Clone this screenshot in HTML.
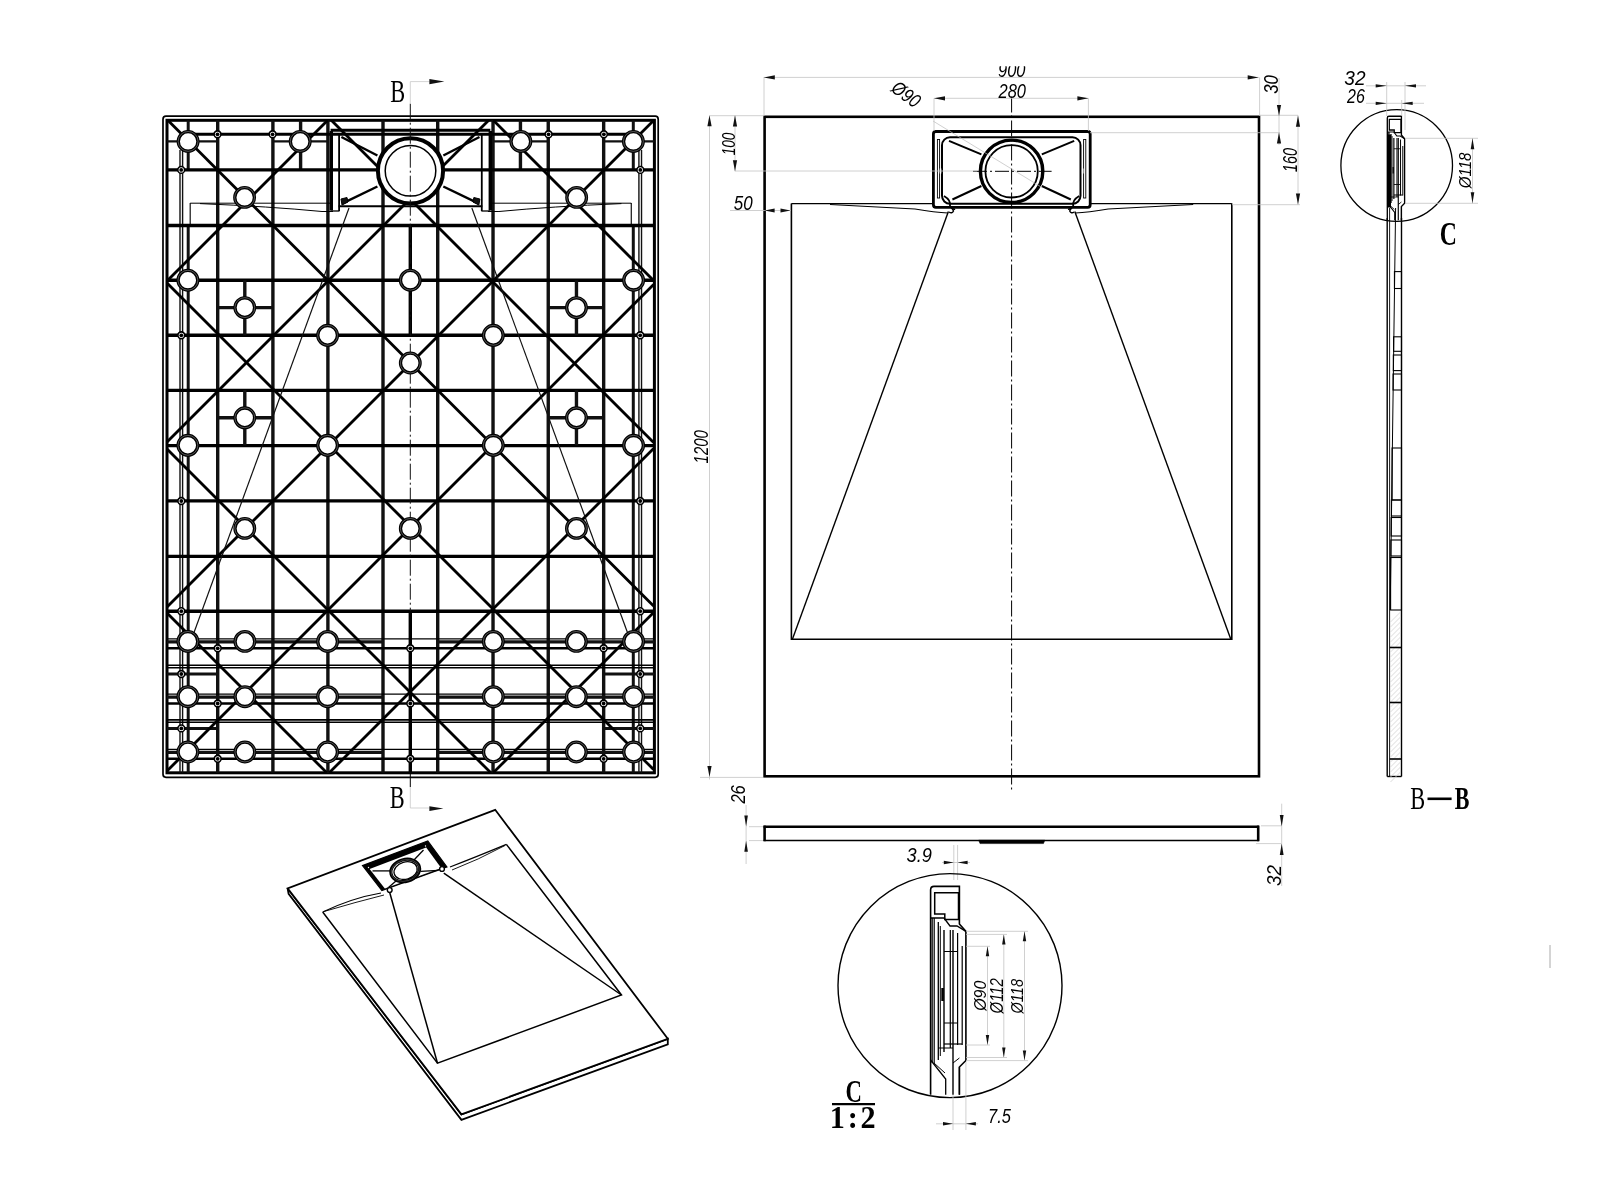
<!DOCTYPE html>
<html><head><meta charset="utf-8"><title>drawing</title>
<style>html,body{margin:0;padding:0;background:#fff;}svg{display:block;filter:grayscale(1);}</style>
</head><body>
<svg width="1600" height="1200" viewBox="0 0 1600 1200">
<rect width="1600" height="1200" fill="#fff"/>
<g id="left">
<rect x="163" y="116.2" width="495.2" height="661.1" rx="3" fill="none" stroke="#000" stroke-width="1.7"/>
<rect x="167" y="120.3" width="487.4" height="652.5" fill="none" stroke="#000" stroke-width="3"/>
<line x1="217.7" y1="120.3" x2="217.7" y2="772.8" stroke="#111" stroke-width="3.4"/>
<line x1="603.67" y1="120.3" x2="603.67" y2="772.8" stroke="#111" stroke-width="3.4"/>
<line x1="272.9" y1="120.3" x2="272.9" y2="772.8" stroke="#111" stroke-width="3.4"/>
<line x1="548.25" y1="120.3" x2="548.25" y2="772.8" stroke="#111" stroke-width="3.4"/>
<line x1="327.9" y1="120.3" x2="327.9" y2="772.8" stroke="#111" stroke-width="3.4"/>
<line x1="493.03" y1="120.3" x2="493.03" y2="772.8" stroke="#111" stroke-width="3.4"/>
<line x1="383" y1="120.3" x2="383" y2="772.8" stroke="#111" stroke-width="3.4"/>
<line x1="437.71" y1="120.3" x2="437.71" y2="772.8" stroke="#111" stroke-width="3.4"/>
<line x1="300.6" y1="120.3" x2="300.6" y2="170" stroke="#111" stroke-width="3.4"/>
<line x1="520.44" y1="120.3" x2="520.44" y2="170" stroke="#111" stroke-width="3.4"/>
<line x1="188.2" y1="120.3" x2="188.2" y2="170" stroke="#111" stroke-width="3"/>
<line x1="633.29" y1="120.3" x2="633.29" y2="170" stroke="#111" stroke-width="3"/>
<line x1="188.2" y1="226" x2="188.2" y2="772.8" stroke="#111" stroke-width="3"/>
<line x1="633.29" y1="226" x2="633.29" y2="772.8" stroke="#111" stroke-width="3"/>
<line x1="190.2" y1="203" x2="190.2" y2="226" stroke="#111" stroke-width="1.2"/>
<line x1="631.28" y1="203" x2="631.28" y2="226" stroke="#111" stroke-width="1.2"/>
<line x1="180" y1="150" x2="180" y2="772.8" stroke="#111" stroke-width="1.4"/>
<line x1="641.52" y1="150" x2="641.52" y2="772.8" stroke="#111" stroke-width="1.4"/>
<line x1="182.6" y1="150" x2="182.6" y2="772.8" stroke="#111" stroke-width="1.4"/>
<line x1="638.91" y1="150" x2="638.91" y2="772.8" stroke="#111" stroke-width="1.4"/>
<line x1="410.3" y1="611" x2="410.3" y2="772.8" stroke="#000" stroke-width="3.4"/>
<line x1="410.3" y1="225.5" x2="410.3" y2="335.2" stroke="#000" stroke-width="3.4"/>
<line x1="167" y1="169.9" x2="653.6" y2="169.9" stroke="#000" stroke-width="3.4"/>
<line x1="167" y1="225.5" x2="653.6" y2="225.5" stroke="#000" stroke-width="3.4"/>
<line x1="167" y1="280.2" x2="653.6" y2="280.2" stroke="#000" stroke-width="3.4"/>
<line x1="167" y1="335.2" x2="653.6" y2="335.2" stroke="#000" stroke-width="3.4"/>
<line x1="167" y1="390.4" x2="653.6" y2="390.4" stroke="#000" stroke-width="3.4"/>
<line x1="167" y1="445.6" x2="653.6" y2="445.6" stroke="#000" stroke-width="3.4"/>
<line x1="167" y1="500.9" x2="653.6" y2="500.9" stroke="#000" stroke-width="3.4"/>
<line x1="167" y1="556.4" x2="653.6" y2="556.4" stroke="#000" stroke-width="3.4"/>
<line x1="167" y1="611.2" x2="653.6" y2="611.2" stroke="#000" stroke-width="3.4"/>
<line x1="188" y1="134.3" x2="633.49" y2="134.3" stroke="#000" stroke-width="3"/>
<line x1="167" y1="141.3" x2="217.4" y2="141.3" stroke="#111" stroke-width="2.2"/>
<line x1="654.57" y1="141.3" x2="603.97" y2="141.3" stroke="#111" stroke-width="2.2"/>
<line x1="272.5" y1="141.3" x2="327.9" y2="141.3" stroke="#111" stroke-width="2.2"/>
<line x1="548.65" y1="141.3" x2="493.03" y2="141.3" stroke="#111" stroke-width="2.2"/>
<line x1="167" y1="638.9" x2="653.6" y2="638.9" stroke="#000" stroke-width="1.3"/>
<line x1="167" y1="641.9" x2="383" y2="641.9" stroke="#111" stroke-width="3.2"/>
<line x1="654.57" y1="641.9" x2="437.71" y2="641.9" stroke="#111" stroke-width="3.2"/>
<line x1="167" y1="648.3" x2="653.6" y2="648.3" stroke="#000" stroke-width="2.4"/>
<line x1="167" y1="665.3" x2="653.6" y2="665.3" stroke="#000" stroke-width="1.6"/>
<line x1="167" y1="667.7" x2="653.6" y2="667.7" stroke="#000" stroke-width="1.6"/>
<line x1="167" y1="694.2" x2="653.6" y2="694.2" stroke="#000" stroke-width="1.3"/>
<line x1="167" y1="697.1" x2="383" y2="697.1" stroke="#111" stroke-width="3.2"/>
<line x1="654.57" y1="697.1" x2="437.71" y2="697.1" stroke="#111" stroke-width="3.2"/>
<line x1="167" y1="703.5" x2="653.6" y2="703.5" stroke="#000" stroke-width="2.4"/>
<line x1="167" y1="719.9" x2="653.6" y2="719.9" stroke="#000" stroke-width="1.6"/>
<line x1="167" y1="722.3" x2="653.6" y2="722.3" stroke="#000" stroke-width="1.6"/>
<line x1="167" y1="749.4" x2="653.6" y2="749.4" stroke="#000" stroke-width="1.3"/>
<line x1="167" y1="752.3" x2="383" y2="752.3" stroke="#111" stroke-width="3.2"/>
<line x1="654.57" y1="752.3" x2="437.71" y2="752.3" stroke="#111" stroke-width="3.2"/>
<line x1="167" y1="758.8" x2="653.6" y2="758.8" stroke="#000" stroke-width="2.4"/>
<line x1="167" y1="674" x2="217.7" y2="674" stroke="#111" stroke-width="3"/>
<line x1="654.57" y1="674" x2="603.67" y2="674" stroke="#111" stroke-width="3"/>
<line x1="167" y1="728.4" x2="217.7" y2="728.4" stroke="#111" stroke-width="3"/>
<line x1="654.57" y1="728.4" x2="603.67" y2="728.4" stroke="#111" stroke-width="3"/>
<line x1="217.7" y1="307.6" x2="272.9" y2="307.6" stroke="#111" stroke-width="3.4"/>
<line x1="603.67" y1="307.6" x2="548.25" y2="307.6" stroke="#111" stroke-width="3.4"/>
<line x1="244.8" y1="280.2" x2="244.8" y2="335.3" stroke="#111" stroke-width="3.4"/>
<line x1="576.46" y1="280.2" x2="576.46" y2="335.3" stroke="#111" stroke-width="3.4"/>
<line x1="217.7" y1="417.8" x2="272.9" y2="417.8" stroke="#111" stroke-width="3.4"/>
<line x1="603.67" y1="417.8" x2="548.25" y2="417.8" stroke="#111" stroke-width="3.4"/>
<line x1="244.8" y1="390" x2="244.8" y2="445.3" stroke="#111" stroke-width="3.4"/>
<line x1="576.46" y1="390" x2="576.46" y2="445.3" stroke="#111" stroke-width="3.4"/>
<line x1="493.3" y1="120.3" x2="653.6" y2="280.6" stroke="#000" stroke-width="2.8"/>
<line x1="331.3" y1="120.3" x2="653.6" y2="442.6" stroke="#000" stroke-width="2.8"/>
<line x1="167.8" y1="120.3" x2="653.6" y2="606.1" stroke="#000" stroke-width="2.8"/>
<line x1="167" y1="283" x2="653.6" y2="769.6" stroke="#000" stroke-width="2.8"/>
<line x1="167" y1="449" x2="490.8" y2="772.8" stroke="#000" stroke-width="2.8"/>
<line x1="167" y1="613" x2="326.8" y2="772.8" stroke="#000" stroke-width="2.8"/>
<line x1="167" y1="281" x2="327.7" y2="120.3" stroke="#000" stroke-width="2.8"/>
<line x1="167" y1="442" x2="488.7" y2="120.3" stroke="#000" stroke-width="2.8"/>
<line x1="167" y1="607" x2="653.6" y2="120.4" stroke="#000" stroke-width="2.8"/>
<line x1="167" y1="771" x2="653.6" y2="284.4" stroke="#000" stroke-width="2.8"/>
<line x1="329.2" y1="772.8" x2="653.6" y2="448.4" stroke="#000" stroke-width="2.8"/>
<line x1="493.2" y1="772.8" x2="653.6" y2="612.4" stroke="#000" stroke-width="2.8"/>
<line x1="349" y1="208" x2="192" y2="638" stroke="#111" stroke-width="1.2"/>
<line x1="471.85" y1="208" x2="629.47" y2="638" stroke="#111" stroke-width="1.2"/>
<path d="M190.2 203.2 L330 204 Q300 206 230 210.5" stroke="#000" stroke-width="0" fill="none"/>
<path d="M200 203.6 Q270 206.5 322 211.5 L333 211.5" stroke="#000" stroke-width="1" fill="none"/>
<path d="M190.2 203.2 L330 203.2" stroke="#000" stroke-width="1" fill="none"/>
<path d="M631.28 203.2 L490.92 204 Q521.04 206 591.32 210.5" stroke="#000" stroke-width="0" fill="none"/>
<path d="M621.44 203.6 Q551.16 206.5 498.95 211.5 L487.91 211.5" stroke="#000" stroke-width="1" fill="none"/>
<path d="M631.28 203.2 L490.92 203.2" stroke="#000" stroke-width="1" fill="none"/>
<rect x="329.6" y="131" width="3.4" height="79.5" fill="#000"/>
<line x1="339.1" y1="135" x2="339.1" y2="211" stroke="#000" stroke-width="1.8"/>
<line x1="330.6" y1="211" x2="339.5" y2="211" stroke="#000" stroke-width="1.3"/>
<line x1="341.4" y1="137" x2="377.4" y2="155.5" stroke="#000" stroke-width="2.4"/>
<line x1="342.5" y1="203.4" x2="377.4" y2="186.5" stroke="#000" stroke-width="2.4"/>
<polygon points="341,199 347,197.5 348,202 342,205" stroke="#000" stroke-width="1" fill="#111"/>
<rect x="488.6" y="131" width="3.4" height="79.5" fill="#000"/>
<line x1="481.78" y1="135" x2="481.78" y2="211" stroke="#000" stroke-width="1.8"/>
<line x1="490.32" y1="211" x2="481.38" y2="211" stroke="#000" stroke-width="1.3"/>
<line x1="479.48" y1="137" x2="443.33" y2="155.5" stroke="#000" stroke-width="2.4"/>
<line x1="478.37" y1="203.4" x2="443.33" y2="186.5" stroke="#000" stroke-width="2.4"/>
<polygon points="479.88,199 473.85,197.5 472.85,202 478.87,205" stroke="#000" stroke-width="1" fill="#111"/>
<line x1="330.6" y1="130.3" x2="490.32" y2="130.3" stroke="#000" stroke-width="3"/>
<line x1="338.6" y1="206.2" x2="482.29" y2="206.2" stroke="#000" stroke-width="2"/>
<circle cx="410.5" cy="170.8" r="32.6" stroke="#000" stroke-width="4" fill="#fff"/>
<circle cx="410.5" cy="170.8" r="25.3" stroke="#000" stroke-width="1.5" fill="none"/>
<line x1="410.3" y1="103.7" x2="410.3" y2="611" stroke="#111" stroke-width="1" stroke-dasharray="16 3 2 3"/>
<line x1="410.3" y1="773" x2="410.3" y2="787" stroke="#000" stroke-width="1"/>
<circle cx="188.1" cy="141.4" r="9.8" stroke="#000" stroke-width="3.3" fill="#fff"/>
<circle cx="188.1" cy="141.4" r="9.95" stroke="#bbb" stroke-width="0.45" fill="none"/>
<circle cx="633.39" cy="141.4" r="9.8" stroke="#000" stroke-width="3.3" fill="#fff"/>
<circle cx="633.39" cy="141.4" r="9.95" stroke="#bbb" stroke-width="0.45" fill="none"/>
<circle cx="300.2" cy="141.4" r="9.8" stroke="#000" stroke-width="3.3" fill="#fff"/>
<circle cx="300.2" cy="141.4" r="9.95" stroke="#bbb" stroke-width="0.45" fill="none"/>
<circle cx="520.84" cy="141.4" r="9.8" stroke="#000" stroke-width="3.3" fill="#fff"/>
<circle cx="520.84" cy="141.4" r="9.95" stroke="#bbb" stroke-width="0.45" fill="none"/>
<circle cx="244.6" cy="197.4" r="9.8" stroke="#000" stroke-width="3.3" fill="#fff"/>
<circle cx="244.6" cy="197.4" r="9.95" stroke="#bbb" stroke-width="0.45" fill="none"/>
<circle cx="576.66" cy="197.4" r="9.8" stroke="#000" stroke-width="3.3" fill="#fff"/>
<circle cx="576.66" cy="197.4" r="9.95" stroke="#bbb" stroke-width="0.45" fill="none"/>
<circle cx="187.9" cy="280.2" r="9.8" stroke="#000" stroke-width="3.3" fill="#fff"/>
<circle cx="187.9" cy="280.2" r="9.95" stroke="#bbb" stroke-width="0.45" fill="none"/>
<circle cx="633.59" cy="280.2" r="9.8" stroke="#000" stroke-width="3.3" fill="#fff"/>
<circle cx="633.59" cy="280.2" r="9.95" stroke="#bbb" stroke-width="0.45" fill="none"/>
<circle cx="244.8" cy="307.6" r="9.8" stroke="#000" stroke-width="3.3" fill="#fff"/>
<circle cx="244.8" cy="307.6" r="9.95" stroke="#bbb" stroke-width="0.45" fill="none"/>
<circle cx="576.46" cy="307.6" r="9.8" stroke="#000" stroke-width="3.3" fill="#fff"/>
<circle cx="576.46" cy="307.6" r="9.95" stroke="#bbb" stroke-width="0.45" fill="none"/>
<circle cx="327.6" cy="335.3" r="9.8" stroke="#000" stroke-width="3.3" fill="#fff"/>
<circle cx="327.6" cy="335.3" r="9.95" stroke="#bbb" stroke-width="0.45" fill="none"/>
<circle cx="493.33" cy="335.3" r="9.8" stroke="#000" stroke-width="3.3" fill="#fff"/>
<circle cx="493.33" cy="335.3" r="9.95" stroke="#bbb" stroke-width="0.45" fill="none"/>
<circle cx="244.8" cy="417.8" r="9.8" stroke="#000" stroke-width="3.3" fill="#fff"/>
<circle cx="244.8" cy="417.8" r="9.95" stroke="#bbb" stroke-width="0.45" fill="none"/>
<circle cx="576.46" cy="417.8" r="9.8" stroke="#000" stroke-width="3.3" fill="#fff"/>
<circle cx="576.46" cy="417.8" r="9.95" stroke="#bbb" stroke-width="0.45" fill="none"/>
<circle cx="187.9" cy="445.3" r="9.8" stroke="#000" stroke-width="3.3" fill="#fff"/>
<circle cx="187.9" cy="445.3" r="9.95" stroke="#bbb" stroke-width="0.45" fill="none"/>
<circle cx="633.59" cy="445.3" r="9.8" stroke="#000" stroke-width="3.3" fill="#fff"/>
<circle cx="633.59" cy="445.3" r="9.95" stroke="#bbb" stroke-width="0.45" fill="none"/>
<circle cx="327.6" cy="445.3" r="9.8" stroke="#000" stroke-width="3.3" fill="#fff"/>
<circle cx="327.6" cy="445.3" r="9.95" stroke="#bbb" stroke-width="0.45" fill="none"/>
<circle cx="493.33" cy="445.3" r="9.8" stroke="#000" stroke-width="3.3" fill="#fff"/>
<circle cx="493.33" cy="445.3" r="9.95" stroke="#bbb" stroke-width="0.45" fill="none"/>
<circle cx="244.8" cy="528.4" r="9.8" stroke="#000" stroke-width="3.3" fill="#fff"/>
<circle cx="244.8" cy="528.4" r="9.95" stroke="#bbb" stroke-width="0.45" fill="none"/>
<circle cx="576.46" cy="528.4" r="9.8" stroke="#000" stroke-width="3.3" fill="#fff"/>
<circle cx="576.46" cy="528.4" r="9.95" stroke="#bbb" stroke-width="0.45" fill="none"/>
<circle cx="187.9" cy="641.4" r="9.8" stroke="#000" stroke-width="3.3" fill="#fff"/>
<circle cx="187.9" cy="641.4" r="9.95" stroke="#bbb" stroke-width="0.45" fill="none"/>
<circle cx="633.59" cy="641.4" r="9.8" stroke="#000" stroke-width="3.3" fill="#fff"/>
<circle cx="633.59" cy="641.4" r="9.95" stroke="#bbb" stroke-width="0.45" fill="none"/>
<circle cx="244.9" cy="641.4" r="9.8" stroke="#000" stroke-width="3.3" fill="#fff"/>
<circle cx="244.9" cy="641.4" r="9.95" stroke="#bbb" stroke-width="0.45" fill="none"/>
<circle cx="576.36" cy="641.4" r="9.8" stroke="#000" stroke-width="3.3" fill="#fff"/>
<circle cx="576.36" cy="641.4" r="9.95" stroke="#bbb" stroke-width="0.45" fill="none"/>
<circle cx="327.6" cy="641.4" r="9.8" stroke="#000" stroke-width="3.3" fill="#fff"/>
<circle cx="327.6" cy="641.4" r="9.95" stroke="#bbb" stroke-width="0.45" fill="none"/>
<circle cx="493.33" cy="641.4" r="9.8" stroke="#000" stroke-width="3.3" fill="#fff"/>
<circle cx="493.33" cy="641.4" r="9.95" stroke="#bbb" stroke-width="0.45" fill="none"/>
<circle cx="187.9" cy="696.7" r="9.8" stroke="#000" stroke-width="3.3" fill="#fff"/>
<circle cx="187.9" cy="696.7" r="9.95" stroke="#bbb" stroke-width="0.45" fill="none"/>
<circle cx="633.59" cy="696.7" r="9.8" stroke="#000" stroke-width="3.3" fill="#fff"/>
<circle cx="633.59" cy="696.7" r="9.95" stroke="#bbb" stroke-width="0.45" fill="none"/>
<circle cx="244.9" cy="696.7" r="9.8" stroke="#000" stroke-width="3.3" fill="#fff"/>
<circle cx="244.9" cy="696.7" r="9.95" stroke="#bbb" stroke-width="0.45" fill="none"/>
<circle cx="576.36" cy="696.7" r="9.8" stroke="#000" stroke-width="3.3" fill="#fff"/>
<circle cx="576.36" cy="696.7" r="9.95" stroke="#bbb" stroke-width="0.45" fill="none"/>
<circle cx="327.6" cy="696.7" r="9.8" stroke="#000" stroke-width="3.3" fill="#fff"/>
<circle cx="327.6" cy="696.7" r="9.95" stroke="#bbb" stroke-width="0.45" fill="none"/>
<circle cx="493.33" cy="696.7" r="9.8" stroke="#000" stroke-width="3.3" fill="#fff"/>
<circle cx="493.33" cy="696.7" r="9.95" stroke="#bbb" stroke-width="0.45" fill="none"/>
<circle cx="187.9" cy="752" r="9.8" stroke="#000" stroke-width="3.3" fill="#fff"/>
<circle cx="187.9" cy="752" r="9.95" stroke="#bbb" stroke-width="0.45" fill="none"/>
<circle cx="633.59" cy="752" r="9.8" stroke="#000" stroke-width="3.3" fill="#fff"/>
<circle cx="633.59" cy="752" r="9.95" stroke="#bbb" stroke-width="0.45" fill="none"/>
<circle cx="244.9" cy="752" r="9.8" stroke="#000" stroke-width="3.3" fill="#fff"/>
<circle cx="244.9" cy="752" r="9.95" stroke="#bbb" stroke-width="0.45" fill="none"/>
<circle cx="576.36" cy="752" r="9.8" stroke="#000" stroke-width="3.3" fill="#fff"/>
<circle cx="576.36" cy="752" r="9.95" stroke="#bbb" stroke-width="0.45" fill="none"/>
<circle cx="327.6" cy="752" r="9.8" stroke="#000" stroke-width="3.3" fill="#fff"/>
<circle cx="327.6" cy="752" r="9.95" stroke="#bbb" stroke-width="0.45" fill="none"/>
<circle cx="493.33" cy="752" r="9.8" stroke="#000" stroke-width="3.3" fill="#fff"/>
<circle cx="493.33" cy="752" r="9.95" stroke="#bbb" stroke-width="0.45" fill="none"/>
<circle cx="410.3" cy="280.2" r="9.8" stroke="#000" stroke-width="3.3" fill="#fff"/>
<circle cx="410.3" cy="280.2" r="9.95" stroke="#bbb" stroke-width="0.45" fill="none"/>
<circle cx="410.3" cy="363" r="9.8" stroke="#000" stroke-width="3.3" fill="#fff"/>
<circle cx="410.3" cy="363" r="9.95" stroke="#bbb" stroke-width="0.45" fill="none"/>
<circle cx="410.3" cy="528.4" r="9.8" stroke="#000" stroke-width="3.3" fill="#fff"/>
<circle cx="410.3" cy="528.4" r="9.95" stroke="#bbb" stroke-width="0.45" fill="none"/>
<circle cx="217.5" cy="134.3" r="3.4" stroke="#000" stroke-width="1.6" fill="#fff"/>
<circle cx="217.5" cy="134.3" r="1.9" stroke="#000" stroke-width="0" fill="#000"/>
<circle cx="603.87" cy="134.3" r="3.4" stroke="#000" stroke-width="1.6" fill="#fff"/>
<circle cx="603.87" cy="134.3" r="1.9" stroke="#000" stroke-width="0" fill="#000"/>
<circle cx="272.6" cy="134.3" r="3.4" stroke="#000" stroke-width="1.6" fill="#fff"/>
<circle cx="272.6" cy="134.3" r="1.9" stroke="#000" stroke-width="0" fill="#000"/>
<circle cx="548.55" cy="134.3" r="3.4" stroke="#000" stroke-width="1.6" fill="#fff"/>
<circle cx="548.55" cy="134.3" r="1.9" stroke="#000" stroke-width="0" fill="#000"/>
<circle cx="181.2" cy="169.9" r="3.4" stroke="#000" stroke-width="1.6" fill="#fff"/>
<circle cx="181.2" cy="169.9" r="1.9" stroke="#000" stroke-width="0" fill="#000"/>
<circle cx="640.32" cy="169.9" r="3.4" stroke="#000" stroke-width="1.6" fill="#fff"/>
<circle cx="640.32" cy="169.9" r="1.9" stroke="#000" stroke-width="0" fill="#000"/>
<circle cx="181.3" cy="335.3" r="3.4" stroke="#000" stroke-width="1.6" fill="#fff"/>
<circle cx="181.3" cy="335.3" r="1.9" stroke="#000" stroke-width="0" fill="#000"/>
<circle cx="640.22" cy="335.3" r="3.4" stroke="#000" stroke-width="1.6" fill="#fff"/>
<circle cx="640.22" cy="335.3" r="1.9" stroke="#000" stroke-width="0" fill="#000"/>
<circle cx="181.3" cy="501" r="3.4" stroke="#000" stroke-width="1.6" fill="#fff"/>
<circle cx="181.3" cy="501" r="1.9" stroke="#000" stroke-width="0" fill="#000"/>
<circle cx="640.22" cy="501" r="3.4" stroke="#000" stroke-width="1.6" fill="#fff"/>
<circle cx="640.22" cy="501" r="1.9" stroke="#000" stroke-width="0" fill="#000"/>
<circle cx="181.3" cy="611.2" r="3.4" stroke="#000" stroke-width="1.6" fill="#fff"/>
<circle cx="181.3" cy="611.2" r="1.9" stroke="#000" stroke-width="0" fill="#000"/>
<circle cx="640.22" cy="611.2" r="3.4" stroke="#000" stroke-width="1.6" fill="#fff"/>
<circle cx="640.22" cy="611.2" r="1.9" stroke="#000" stroke-width="0" fill="#000"/>
<circle cx="181.3" cy="674" r="3.4" stroke="#000" stroke-width="1.6" fill="#fff"/>
<circle cx="181.3" cy="674" r="1.9" stroke="#000" stroke-width="0" fill="#000"/>
<circle cx="640.22" cy="674" r="3.4" stroke="#000" stroke-width="1.6" fill="#fff"/>
<circle cx="640.22" cy="674" r="1.9" stroke="#000" stroke-width="0" fill="#000"/>
<circle cx="181.3" cy="728.4" r="3.4" stroke="#000" stroke-width="1.6" fill="#fff"/>
<circle cx="181.3" cy="728.4" r="1.9" stroke="#000" stroke-width="0" fill="#000"/>
<circle cx="640.22" cy="728.4" r="3.4" stroke="#000" stroke-width="1.6" fill="#fff"/>
<circle cx="640.22" cy="728.4" r="1.9" stroke="#000" stroke-width="0" fill="#000"/>
<circle cx="217.7" cy="648.3" r="3.4" stroke="#000" stroke-width="1.6" fill="#fff"/>
<circle cx="217.7" cy="648.3" r="1.9" stroke="#000" stroke-width="0" fill="#000"/>
<circle cx="603.67" cy="648.3" r="3.4" stroke="#000" stroke-width="1.6" fill="#fff"/>
<circle cx="603.67" cy="648.3" r="1.9" stroke="#000" stroke-width="0" fill="#000"/>
<circle cx="217.7" cy="703.5" r="3.4" stroke="#000" stroke-width="1.6" fill="#fff"/>
<circle cx="217.7" cy="703.5" r="1.9" stroke="#000" stroke-width="0" fill="#000"/>
<circle cx="603.67" cy="703.5" r="3.4" stroke="#000" stroke-width="1.6" fill="#fff"/>
<circle cx="603.67" cy="703.5" r="1.9" stroke="#000" stroke-width="0" fill="#000"/>
<circle cx="217.7" cy="758.8" r="3.4" stroke="#000" stroke-width="1.6" fill="#fff"/>
<circle cx="217.7" cy="758.8" r="1.9" stroke="#000" stroke-width="0" fill="#000"/>
<circle cx="603.67" cy="758.8" r="3.4" stroke="#000" stroke-width="1.6" fill="#fff"/>
<circle cx="603.67" cy="758.8" r="1.9" stroke="#000" stroke-width="0" fill="#000"/>
<circle cx="410.3" cy="648.3" r="3.4" stroke="#000" stroke-width="1.6" fill="#fff"/>
<circle cx="410.3" cy="648.3" r="1.9" stroke="#000" stroke-width="0" fill="#000"/>
<circle cx="410.3" cy="703.5" r="3.4" stroke="#000" stroke-width="1.6" fill="#fff"/>
<circle cx="410.3" cy="703.5" r="1.9" stroke="#000" stroke-width="0" fill="#000"/>
<circle cx="410.3" cy="758.8" r="3.4" stroke="#000" stroke-width="1.6" fill="#fff"/>
<circle cx="410.3" cy="758.8" r="1.9" stroke="#000" stroke-width="0" fill="#000"/>
<line x1="410.3" y1="81.6" x2="410.3" y2="103.7" stroke="#c8c8c8" stroke-width="0.8"/>
<line x1="410.3" y1="81.6" x2="429.4" y2="81.6" stroke="#c8c8c8" stroke-width="0.8"/>
<polygon points="444.4,81.6 429.4,84.3 429.4,78.9" stroke="none" stroke-width="0" fill="#111"/>
<line x1="410.3" y1="787" x2="410.3" y2="808" stroke="#c8c8c8" stroke-width="0.8"/>
<line x1="410.3" y1="808" x2="429.4" y2="808" stroke="#c8c8c8" stroke-width="0.8"/>
<polygon points="443.4,808.6 429.4,811 429.4,806.2" stroke="none" stroke-width="0" fill="#111"/>
<text x="397.6" y="101.6" font-family="Liberation Serif" font-size="31.5" font-style="normal" font-weight="normal" text-anchor="middle" fill="#000" transform="translate(397.6 101.6) scale(0.71 1) translate(-397.6 -101.6)">B</text>
<text x="397.2" y="807.8" font-family="Liberation Serif" font-size="31.5" font-style="normal" font-weight="normal" text-anchor="middle" fill="#000" transform="translate(397.2 807.8) scale(0.71 1) translate(-397.2 -807.8)">B</text>
</g>
<g id="plan">
<rect x="764.6" y="116.8" width="494.4" height="659.5" fill="none" stroke="#000" stroke-width="2.6"/>
<polyline points="791.4,203.4 791.4,639.2 1231.8,639.2 1231.8,203.4" stroke="#000" stroke-width="1.6" fill="none"/>
<line x1="791.4" y1="203.6" x2="936" y2="203.6" stroke="#000" stroke-width="1.4"/>
<path d="M830 204.5 Q880 207 915 209 Q935 212.5 948 213" stroke="#000" stroke-width="1.1" fill="none"/>
<line x1="948.4" y1="211.5" x2="792.4" y2="639.2" stroke="#000" stroke-width="1.4"/>
<path d="M947 205 Q951.5 206 953.5 211 Q952 214 949 212" stroke="#000" stroke-width="1.4" fill="none"/>
<line x1="1231.8" y1="203.6" x2="1087.2" y2="203.6" stroke="#000" stroke-width="1.4"/>
<path d="M1193.2 204.5 Q1143.2 207 1108.2 209 Q1088.2 212.5 1075.2 213" stroke="#000" stroke-width="1.1" fill="none"/>
<line x1="1074.8" y1="211.5" x2="1230.8" y2="639.2" stroke="#000" stroke-width="1.4"/>
<path d="M1076.2 205 Q1071.7 206 1069.7 211 Q1071.2 214 1074.2 212" stroke="#000" stroke-width="1.4" fill="none"/>
<rect x="933.4" y="131.5" width="156.8" height="75.8" rx="2.5" fill="#fff" stroke="#000" stroke-width="2.8"/>
<rect x="942" y="137.3" width="138.5" height="66.5" rx="8" fill="none" stroke="#000" stroke-width="2.0"/>
<rect x="937.4" y="139.5" width="2.2" height="58.5" fill="none" stroke="#000" stroke-width="0.9"/>
<line x1="940.5" y1="168.5" x2="940.5" y2="173.5" stroke="#fff" stroke-width="1.6"/>
<line x1="949" y1="140.8" x2="981.4" y2="154.4" stroke="#000" stroke-width="2"/>
<line x1="952.4" y1="199.5" x2="981.4" y2="186" stroke="#000" stroke-width="2"/>
<path d="M944 196 Q951 200 950 206 Q953 210 955 209" stroke="#000" stroke-width="1.8" fill="none"/>
<rect x="1083.6" y="139.5" width="2.2" height="58.5" fill="none" stroke="#000" stroke-width="0.9"/>
<line x1="1082.7" y1="168.5" x2="1082.7" y2="173.5" stroke="#fff" stroke-width="1.6"/>
<line x1="1074.2" y1="140.8" x2="1041.8" y2="154.4" stroke="#000" stroke-width="2"/>
<line x1="1070.8" y1="199.5" x2="1041.8" y2="186" stroke="#000" stroke-width="2"/>
<path d="M1079.2 196 Q1072.2 200 1073.2 206 Q1070.2 210 1068.2 209" stroke="#000" stroke-width="1.8" fill="none"/>
<circle cx="1011.6" cy="171.3" r="31.2" stroke="#000" stroke-width="3.4" fill="#fff"/>
<circle cx="1011.6" cy="171.3" r="26.2" stroke="#000" stroke-width="1.8" fill="none"/>
<line x1="973" y1="171.3" x2="1051.6" y2="171.3" stroke="#000" stroke-width="1" stroke-dasharray="14 3 2 3"/>
<line x1="1011.6" y1="96.5" x2="1011.6" y2="790" stroke="#000" stroke-width="1" stroke-dasharray="16 3 2 3"/>
<line x1="933" y1="121" x2="1042" y2="187.5" stroke="#bbb" stroke-width="0.7"/>
</g>
<g id="dims">
<line x1="763.6" y1="77.4" x2="1258.7" y2="77.4" stroke="#c4c4c4" stroke-width="0.8"/>
<line x1="764" y1="77.4" x2="764" y2="116" stroke="#c4c4c4" stroke-width="0.8"/>
<line x1="1259.6" y1="77.4" x2="1259.6" y2="116" stroke="#c4c4c4" stroke-width="0.8"/>
<polygon points="763.8,77.4 774.8,75.3 774.8,79.5" stroke="none" stroke-width="0" fill="#111"/>
<polygon points="1258.7,77.4 1247.7,79.5 1247.7,75.3" stroke="none" stroke-width="0" fill="#111"/>
<clipPath id="c900"><rect x="990" y="66.3" width="50" height="20"/></clipPath>
<g clip-path="url(#c900)">
<text x="1011.75" y="77.3" font-family="Liberation Sans" font-size="19.83" font-style="italic" font-weight="normal" text-anchor="middle" fill="#000" transform="translate(1011.75 77.3) scale(0.83 1) translate(-1011.75 -77.3)">900</text>
</g>
<line x1="934" y1="98.3" x2="1088.4" y2="98.3" stroke="#c4c4c4" stroke-width="0.8"/>
<line x1="934" y1="98.3" x2="934" y2="131" stroke="#c4c4c4" stroke-width="0.8"/>
<line x1="1088.4" y1="98.3" x2="1088.4" y2="131" stroke="#c4c4c4" stroke-width="0.8"/>
<polygon points="934,98.3 945,96.2 945,100.4" stroke="none" stroke-width="0" fill="#111"/>
<polygon points="1088.4,98.3 1077.4,100.4 1077.4,96.2" stroke="none" stroke-width="0" fill="#111"/>
<text x="1012.25" y="98.17" font-family="Liberation Sans" font-size="19.83" font-style="italic" font-weight="normal" text-anchor="middle" fill="#000" transform="translate(1012.25 98.17) scale(0.83 1) translate(-1012.25 -98.17)" id="t280">280</text>
<text x="902.2" y="99.6" font-family="Liberation Sans" font-size="19.5" font-style="italic" font-weight="normal" text-anchor="middle" fill="#000" transform="rotate(37 902.2 99.6) translate(902.2 99.6) scale(0.82 1) translate(-902.2 -99.6)">&#216;90</text>
<line x1="709.5" y1="115.7" x2="709.5" y2="779.5" stroke="#c4c4c4" stroke-width="0.8"/>
<line x1="709.5" y1="115.7" x2="764" y2="115.7" stroke="#c4c4c4" stroke-width="0.8"/>
<polygon points="709.5,115.2 711.6,126.2 707.4,126.2" stroke="none" stroke-width="0" fill="#111"/>
<polygon points="709.5,777 707.4,766 711.6,766" stroke="none" stroke-width="0" fill="#111"/>
<text x="708.38" y="446.8" font-family="Liberation Sans" font-size="20.46" font-style="italic" font-weight="normal" text-anchor="middle" fill="#000" transform="rotate(-90 708.38 446.8) translate(708.38 446.8) scale(0.73 1) translate(-708.38 -446.8)" id="t1200">1200</text>
<line x1="735" y1="115.7" x2="735" y2="171.3" stroke="#c4c4c4" stroke-width="0.8"/>
<line x1="735" y1="171" x2="977" y2="171" stroke="#c4c4c4" stroke-width="0.8"/>
<polygon points="735,115.4 737.1,126.4 732.9,126.4" stroke="none" stroke-width="0" fill="#111"/>
<polygon points="735,171.3 732.9,160.3 737.1,160.3" stroke="none" stroke-width="0" fill="#111"/>
<text x="734.75" y="143.92" font-family="Liberation Sans" font-size="19.15" font-style="italic" font-weight="normal" text-anchor="middle" fill="#000" transform="rotate(-90 734.75 143.92) translate(734.75 143.92) scale(0.71 1) translate(-734.75 -143.92)" id="t100">100</text>
<line x1="730" y1="210.5" x2="791" y2="210.5" stroke="#c4c4c4" stroke-width="0.8"/>
<polygon points="764.6,210.5 774.6,208.4 774.6,212.6" stroke="none" stroke-width="0" fill="#111"/>
<polygon points="790.5,210.5 780.5,212.6 780.5,208.4" stroke="none" stroke-width="0" fill="#111"/>
<text x="743.18" y="210" font-family="Liberation Sans" font-size="20.25" font-style="italic" font-weight="normal" text-anchor="middle" fill="#000" transform="translate(743.18 210) scale(0.84 1) translate(-743.18 -210)" id="t50">50</text>
<line x1="1090" y1="132.7" x2="1280" y2="132.7" stroke="#c4c4c4" stroke-width="0.8"/>
<line x1="1260" y1="115.3" x2="1298" y2="115.3" stroke="#c4c4c4" stroke-width="0.8"/>
<line x1="1232" y1="204.7" x2="1300" y2="204.7" stroke="#c4c4c4" stroke-width="0.8"/>
<line x1="1279" y1="78" x2="1279" y2="145" stroke="#c4c4c4" stroke-width="0.8"/>
<polygon points="1279,116 1276.9,105 1281.1,105" stroke="none" stroke-width="0" fill="#111"/>
<polygon points="1279,132.5 1281.1,143.5 1276.9,143.5" stroke="none" stroke-width="0" fill="#111"/>
<text x="1278.47" y="84.51" font-family="Liberation Sans" font-size="19.71" font-style="italic" font-weight="normal" text-anchor="middle" fill="#000" transform="rotate(-90 1278.47 84.51) translate(1278.47 84.51) scale(0.85 1) translate(-1278.47 -84.51)" id="t30">30</text>
<line x1="1298" y1="115.3" x2="1298" y2="205" stroke="#c4c4c4" stroke-width="0.8"/>
<polygon points="1298,115.8 1300.1,126.8 1295.9,126.8" stroke="none" stroke-width="0" fill="#111"/>
<polygon points="1298,204.5 1295.9,193.5 1300.1,193.5" stroke="none" stroke-width="0" fill="#111"/>
<text x="1297.13" y="160" font-family="Liberation Sans" font-size="20.01" font-style="italic" font-weight="normal" text-anchor="middle" fill="#000" transform="rotate(-90 1297.13 160) translate(1297.13 160) scale(0.72 1) translate(-1297.13 -160)" id="t160">160</text>
</g>
<g id="elev">
<line x1="763.6" y1="826.8" x2="1259" y2="826.8" stroke="#000" stroke-width="2.6"/>
<line x1="763.6" y1="840.5" x2="1259" y2="840.5" stroke="#000" stroke-width="1.4"/>
<line x1="764.6" y1="825.6" x2="764.6" y2="841.2" stroke="#000" stroke-width="2.6"/>
<line x1="1258.2" y1="825.6" x2="1258.2" y2="841.2" stroke="#000" stroke-width="2.6"/>
<polygon points="978.6,840.2 1044.9,840.2 1043.5,843.6 980,843.6" stroke="#000" stroke-width="0.5" fill="#000"/>
<line x1="700" y1="777.4" x2="763" y2="777.4" stroke="#c4c4c4" stroke-width="0.8"/>
<line x1="746.1" y1="805" x2="746.1" y2="864" stroke="#c4c4c4" stroke-width="0.8"/>
<line x1="749" y1="826.7" x2="763" y2="826.7" stroke="#c4c4c4" stroke-width="0.8"/>
<line x1="749" y1="840.6" x2="763" y2="840.6" stroke="#c4c4c4" stroke-width="0.8"/>
<polygon points="746.1,826.4 744.3,815.4 747.9,815.4" stroke="none" stroke-width="0" fill="#111"/>
<polygon points="746.1,840.7 747.9,851.7 744.3,851.7" stroke="none" stroke-width="0" fill="#111"/>
<text x="745.13" y="794.38" font-family="Liberation Sans" font-size="20.7" font-style="italic" font-weight="normal" text-anchor="middle" fill="#000" transform="rotate(-90 745.13 794.38) translate(745.13 794.38) scale(0.8 1) translate(-745.13 -794.38)" id="t26e">26</text>
<line x1="1261" y1="825.8" x2="1281" y2="825.8" stroke="#c4c4c4" stroke-width="0.8"/>
<line x1="1256" y1="843.6" x2="1281" y2="843.6" stroke="#c4c4c4" stroke-width="0.8"/>
<line x1="1281.7" y1="803.7" x2="1281.7" y2="886" stroke="#c4c4c4" stroke-width="0.8"/>
<polygon points="1281.7,826.6 1279.8,815.1 1283.6,815.1" stroke="none" stroke-width="0" fill="#111"/>
<polygon points="1281.7,843.6 1283.6,855.1 1279.8,855.1" stroke="none" stroke-width="0" fill="#111"/>
<text x="1280.73" y="875.51" font-family="Liberation Sans" font-size="19.71" font-style="italic" font-weight="normal" text-anchor="middle" fill="#000" transform="rotate(-90 1280.73 875.51) translate(1280.73 875.51) scale(0.95 1) translate(-1280.73 -875.51)" id="t32e">32</text>
<line x1="953.8" y1="845" x2="953.8" y2="880" stroke="#c4c4c4" stroke-width="0.8"/>
<line x1="957.6" y1="845" x2="957.6" y2="880" stroke="#c4c4c4" stroke-width="0.8"/>
<line x1="942" y1="862.5" x2="970" y2="862.5" stroke="#c4c4c4" stroke-width="0.8"/>
<polygon points="953.8,862.5 943.8,864.2 943.8,860.8" stroke="none" stroke-width="0" fill="#111"/>
<polygon points="957.6,862.5 967.6,860.8 967.6,864.2" stroke="none" stroke-width="0" fill="#111"/>
<text x="919.25" y="861.82" font-family="Liberation Sans" font-size="20.46" font-style="italic" font-weight="normal" text-anchor="middle" fill="#000" transform="translate(919.25 861.82) scale(0.89 1) translate(-919.25 -861.82)" id="t39">3.9</text>
</g>
<g id="iso">
<polygon points="287.6,888.3 461.4,1114.4 667.8,1038.8 667.8,1044.3 461.4,1119.9 288.6,893.8" stroke="#000" stroke-width="1.8" fill="#fff"/>
<polygon points="495.2,809.8 287.6,888.3 461.4,1114.4 667.8,1038.8" stroke="#000" stroke-width="1.8" fill="#fff"/>
<polyline points="322.7,912 437.5,1063.2 621.5,995 506.4,844.4" stroke="#000" stroke-width="1.5" fill="none"/>
<path d="M322.7 912 Q352 898 381 893" stroke="#000" stroke-width="1.2" fill="none"/>
<path d="M324 911.5 Q356 902 384 895" stroke="#000" stroke-width="0.9" fill="none"/>
<path d="M506.4 844.4 Q476 857 450 867" stroke="#000" stroke-width="1.2" fill="none"/>
<path d="M505 845.5 Q478 860 452 870" stroke="#000" stroke-width="0.9" fill="none"/>
<line x1="389.5" y1="891.8" x2="437.5" y2="1063.2" stroke="#000" stroke-width="1.5"/>
<line x1="443.8" y1="873.2" x2="621.5" y2="995" stroke="#000" stroke-width="1.5"/>
<polygon points="362.5,865.6 427.8,840.9 446.9,866.9 381.9,890.6" stroke="#000" stroke-width="1.2" fill="#000"/>
<polygon points="369.61,868.9 426.19,847.5 441.19,867.92 384.81,888.48" stroke="#000" stroke-width="0" fill="#fff"/>
<line x1="372.5" y1="870.9" x2="390" y2="870.9" stroke="#000" stroke-width="1.3"/>
<line x1="423.5" y1="850" x2="413.5" y2="860.5" stroke="#000" stroke-width="1.3"/>
<line x1="438.5" y1="870.3" x2="420.5" y2="871.3" stroke="#000" stroke-width="1.3"/>
<line x1="388.5" y1="887.5" x2="396.5" y2="880.5" stroke="#000" stroke-width="1.3"/>
<ellipse cx="405.2" cy="870.4" rx="14.6" ry="10.9" transform="rotate(-16 405.2 870.4)" fill="#fff" stroke="#000" stroke-width="3.2"/>
<ellipse cx="405.2" cy="870.4" rx="14.3" ry="10.6" transform="rotate(-16 405.2 870.4)" fill="none" stroke="#888" stroke-width="0.4"/>
<ellipse cx="405.6" cy="870.6" rx="11.8" ry="8.6" transform="rotate(-16 405.6 870.6)" fill="#fff" stroke="#000" stroke-width="1.3"/>
<circle cx="389.7" cy="890" r="2.4" stroke="#000" stroke-width="1.4" fill="#fff"/>
<circle cx="442" cy="869" r="2.4" stroke="#000" stroke-width="1.4" fill="#fff"/>
<circle cx="368.5" cy="867.5" r="0.7" stroke="#000" stroke-width="0" fill="#fff"/>
<circle cx="425.5" cy="846" r="0.7" stroke="#000" stroke-width="0" fill="#fff"/>
</g>
<g id="details">
<circle cx="950" cy="985.6" r="112" stroke="#000" stroke-width="1.4" fill="none"/>
<g transform="translate(0 0)">
<path d="M930.6 1094.7 L930.6 890 Q930.6 886.4 934 886.4 L959.4 886.4 L959.4 924 L965.9 931.4 L965.9 1060.5 L959.4 1067 L959.4 1094.7" stroke="#000" stroke-width="1.6" fill="none"/>
<path d="M934.7 892.8 H958.5 V919.4 H944.8 V914 H934.7 Z" stroke="#000" stroke-width="1.5" fill="none"/>
<path d="M932.2 918 V1063" stroke="#000" stroke-width="1.2" fill="none"/>
<path d="M934.2 918 V1063" stroke="#000" stroke-width="1.2" fill="none"/>
<path d="M938.3 922 V1060" stroke="#000" stroke-width="1.3" fill="none"/>
<path d="M940.3 926 V1056" stroke="#000" stroke-width="1" fill="none"/>
<path d="M944 930 V1052" stroke="#000" stroke-width="1.4" fill="none"/>
<path d="M950.3 930 V1048" stroke="#000" stroke-width="1.2" fill="none"/>
<path d="M953 930 V1094.7" stroke="#000" stroke-width="1.4" fill="none"/>
<path d="M957.6 933 V1045" stroke="#000" stroke-width="1.2" fill="none"/>
<path d="M962.2 946 V1045" stroke="#000" stroke-width="1.2" fill="none"/>
<path d="M930.6 918 H944 L950 926 H957 L965.9 931.4" stroke="#000" stroke-width="1.3" fill="none"/>
<path d="M944 951.5 H957.6" stroke="#000" stroke-width="1" fill="none"/>
<path d="M944 1023 H957.6" stroke="#000" stroke-width="1" fill="none"/>
<path d="M944 1044 H962" stroke="#000" stroke-width="1.2" fill="none"/>
<path d="M938 1048 H953" stroke="#000" stroke-width="1" fill="none"/>
<path d="M930.6 1060 L945.7 1079 V1094.7" stroke="#000" stroke-width="1.3" fill="none"/>
<path d="M934 1063 L945 1073" stroke="#000" stroke-width="1" fill="none"/>
<path d="M953 1063 L959.4 1058" stroke="#000" stroke-width="1" fill="none"/>
<path d="M959.4 1067 V1094.7" stroke="#000" stroke-width="1.3" fill="none"/>
<rect x="941.3" y="988" width="2.6" height="13" fill="#000"/>
</g>
<line x1="987.5" y1="946.3" x2="987.5" y2="1045" stroke="#c4c4c4" stroke-width="0.8"/>
<polygon points="987.5,946.3 989.2,956.3 985.8,956.3" stroke="none" stroke-width="0" fill="#111"/>
<polygon points="987.5,1045 985.8,1035 989.2,1035" stroke="none" stroke-width="0" fill="#111"/>
<line x1="1003.8" y1="934.4" x2="1003.8" y2="1057.5" stroke="#c4c4c4" stroke-width="0.8"/>
<polygon points="1003.8,934.4 1005.5,944.4 1002.1,944.4" stroke="none" stroke-width="0" fill="#111"/>
<polygon points="1003.8,1057.5 1002.1,1047.5 1005.5,1047.5" stroke="none" stroke-width="0" fill="#111"/>
<line x1="1024.5" y1="931.3" x2="1024.5" y2="1060.6" stroke="#c4c4c4" stroke-width="0.8"/>
<polygon points="1024.5,931.3 1026.2,941.3 1022.8,941.3" stroke="none" stroke-width="0" fill="#111"/>
<polygon points="1024.5,1060.6 1022.8,1050.6 1026.2,1050.6" stroke="none" stroke-width="0" fill="#111"/>
<line x1="966" y1="931.3" x2="1028" y2="931.3" stroke="#c4c4c4" stroke-width="0.8"/>
<line x1="966" y1="934.4" x2="1007" y2="934.4" stroke="#c4c4c4" stroke-width="0.8"/>
<line x1="966" y1="946.3" x2="990" y2="946.3" stroke="#c4c4c4" stroke-width="0.8"/>
<line x1="966" y1="1045" x2="990" y2="1045" stroke="#c4c4c4" stroke-width="0.8"/>
<line x1="966" y1="1057.5" x2="1007" y2="1057.5" stroke="#c4c4c4" stroke-width="0.8"/>
<line x1="966" y1="1060.6" x2="1028" y2="1060.6" stroke="#c4c4c4" stroke-width="0.8"/>
<text x="986.4" y="995.77" font-family="Liberation Sans" font-size="15.96" font-style="italic" font-weight="normal" text-anchor="middle" fill="#000" transform="rotate(-90 986.4 995.77) translate(986.4 995.77) scale(1 1) translate(-986.4 -995.77)" id="tO90d">&#216;90</text>
<text x="1002.82" y="995.76" font-family="Liberation Sans" font-size="17.74" font-style="italic" font-weight="normal" text-anchor="middle" fill="#000" transform="rotate(-90 1002.82 995.76) translate(1002.82 995.76) scale(0.84 1) translate(-1002.82 -995.76)" id="tO112d">&#216;112</text>
<text x="1023.3" y="996.26" font-family="Liberation Sans" font-size="16.37" font-style="italic" font-weight="normal" text-anchor="middle" fill="#000" transform="rotate(-90 1023.3 996.26) translate(1023.3 996.26) scale(0.89 1) translate(-1023.3 -996.26)" id="tO118d">&#216;118</text>
<line x1="953" y1="1095" x2="953" y2="1130" stroke="#c4c4c4" stroke-width="0.8"/>
<line x1="965.9" y1="1062" x2="965.9" y2="1130" stroke="#c4c4c4" stroke-width="0.8"/>
<line x1="936" y1="1123.8" x2="978" y2="1123.8" stroke="#c4c4c4" stroke-width="0.8"/>
<polygon points="953,1123.8 943,1125.5 943,1122.1" stroke="none" stroke-width="0" fill="#111"/>
<polygon points="965.9,1123.8 975.9,1122.1 975.9,1125.5" stroke="none" stroke-width="0" fill="#111"/>
<text x="999.43" y="1122.67" font-family="Liberation Sans" font-size="19.83" font-style="italic" font-weight="normal" text-anchor="middle" fill="#000" transform="translate(999.43 1122.67) scale(0.83 1) translate(-999.43 -1122.67)" id="t75">7.5</text>
<text x="853.7" y="1101.6" font-family="Liberation Serif" font-size="32.5" font-style="normal" font-weight="bold" text-anchor="middle" fill="#000" transform="translate(853.7 1101.6) scale(0.7 1) translate(-853.7 -1101.6)">C</text>
<line x1="832" y1="1104.2" x2="875" y2="1104.2" stroke="#000" stroke-width="2.2"/>
<text x="854.2" y="1128.2" font-family="Liberation Serif" font-size="32.5" font-style="normal" font-weight="bold" text-anchor="middle" fill="#000" transform="translate(854.2 1128.2) scale(0.93 1) translate(-854.2 -1128.2)" letter-spacing="3">1:2</text>
<circle cx="1396.7" cy="165.5" r="55.8" stroke="#000" stroke-width="1.3" fill="none"/>
<g transform="matrix(0.49 0 0 0.5 931.31 -327)">
<path d="M930.6 1094.7 L930.6 890 Q930.6 886.4 934 886.4 L959.4 886.4 L959.4 924 L965.9 931.4 L965.9 1060.5 L959.4 1067 L959.4 1094.7" stroke="#000" stroke-width="2.72" fill="none"/>
<path d="M934.7 892.8 H958.5 V919.4 H944.8 V914 H934.7 Z" stroke="#000" stroke-width="2.55" fill="none"/>
<path d="M932.2 918 V1063" stroke="#000" stroke-width="2.04" fill="none"/>
<path d="M934.2 918 V1063" stroke="#000" stroke-width="2.04" fill="none"/>
<path d="M938.3 922 V1060" stroke="#000" stroke-width="2.21" fill="none"/>
<path d="M940.3 926 V1056" stroke="#000" stroke-width="1.7" fill="none"/>
<path d="M944 930 V1052" stroke="#000" stroke-width="2.38" fill="none"/>
<path d="M950.3 930 V1048" stroke="#000" stroke-width="2.04" fill="none"/>
<path d="M953 930 V1094.7" stroke="#000" stroke-width="2.38" fill="none"/>
<path d="M957.6 933 V1045" stroke="#000" stroke-width="2.04" fill="none"/>
<path d="M962.2 946 V1045" stroke="#000" stroke-width="2.04" fill="none"/>
<path d="M930.6 918 H944 L950 926 H957 L965.9 931.4" stroke="#000" stroke-width="2.21" fill="none"/>
<path d="M944 951.5 H957.6" stroke="#000" stroke-width="1.7" fill="none"/>
<path d="M944 1023 H957.6" stroke="#000" stroke-width="1.7" fill="none"/>
<path d="M944 1044 H962" stroke="#000" stroke-width="2.04" fill="none"/>
<path d="M938 1048 H953" stroke="#000" stroke-width="1.7" fill="none"/>
<path d="M930.6 1060 L945.7 1079 V1094.7" stroke="#000" stroke-width="2.21" fill="none"/>
<path d="M934 1063 L945 1073" stroke="#000" stroke-width="1.7" fill="none"/>
<path d="M953 1063 L959.4 1058" stroke="#000" stroke-width="1.7" fill="none"/>
<path d="M959.4 1067 V1094.7" stroke="#000" stroke-width="2.21" fill="none"/>
<rect x="941.3" y="988" width="2.6" height="13" fill="#000"/>
</g>
<rect x="1387.0" y="134.5" width="4.0" height="73" fill="#000"/>
<text x="1448.4" y="244.6" font-family="Liberation Serif" font-size="33" font-style="normal" font-weight="bold" text-anchor="middle" fill="#000" transform="translate(1448.4 244.6) scale(0.72 1) translate(-1448.4 -244.6)">C</text>
<line x1="1405" y1="138.3" x2="1478" y2="138.3" stroke="#c4c4c4" stroke-width="0.8"/>
<line x1="1405" y1="203.3" x2="1478" y2="203.3" stroke="#c4c4c4" stroke-width="0.8"/>
<line x1="1472.5" y1="138.3" x2="1472.5" y2="203.3" stroke="#c4c4c4" stroke-width="0.8"/>
<polygon points="1472.5,138.3 1474.3,149.3 1470.7,149.3" stroke="none" stroke-width="0" fill="#111"/>
<polygon points="1472.5,203.3 1470.7,192.3 1474.3,192.3" stroke="none" stroke-width="0" fill="#111"/>
<text x="1471.19" y="170.4" font-family="Liberation Sans" font-size="16.38" font-style="italic" font-weight="normal" text-anchor="middle" fill="#000" transform="rotate(-90 1471.19 170.4) translate(1471.19 170.4) scale(0.92 1) translate(-1471.19 -170.4)" id="tO118t">&#216;118</text>
<line x1="1366" y1="85.8" x2="1426" y2="85.8" stroke="#c4c4c4" stroke-width="0.8"/>
<line x1="1366" y1="103.3" x2="1424" y2="103.3" stroke="#c4c4c4" stroke-width="0.8"/>
<line x1="1386.7" y1="82" x2="1386.7" y2="116" stroke="#c4c4c4" stroke-width="0.8"/>
<line x1="1405" y1="82" x2="1405" y2="130" stroke="#c4c4c4" stroke-width="0.8"/>
<line x1="1401.7" y1="100" x2="1401.7" y2="116" stroke="#c4c4c4" stroke-width="0.8"/>
<polygon points="1386.7,85.8 1375.7,87.4 1375.7,84.2" stroke="none" stroke-width="0" fill="#111"/>
<polygon points="1405,85.8 1416,84.2 1416,87.4" stroke="none" stroke-width="0" fill="#111"/>
<polygon points="1386.7,103.3 1375.7,104.9 1375.7,101.7" stroke="none" stroke-width="0" fill="#111"/>
<polygon points="1401.7,103.3 1412.7,101.7 1412.7,104.9" stroke="none" stroke-width="0" fill="#111"/>
<text x="1354.94" y="84.77" font-family="Liberation Sans" font-size="19.83" font-style="italic" font-weight="normal" text-anchor="middle" fill="#000" transform="translate(1354.94 84.77) scale(0.96 1) translate(-1354.94 -84.77)" id="t32t">32</text>
<text x="1355.96" y="102.63" font-family="Liberation Sans" font-size="20.01" font-style="italic" font-weight="normal" text-anchor="middle" fill="#000" transform="translate(1355.96 102.63) scale(0.8 1) translate(-1355.96 -102.63)" id="t26t">26</text>
<line x1="1387.2" y1="218" x2="1387.2" y2="776.5" stroke="#000" stroke-width="1.4"/>
<line x1="1389.6" y1="208" x2="1389.6" y2="776.5" stroke="#000" stroke-width="0.9"/>
<line x1="1401.5" y1="218" x2="1401.5" y2="776.5" stroke="#000" stroke-width="1.4"/>
<line x1="1387.2" y1="776.5" x2="1401.5" y2="776.5" stroke="#000" stroke-width="1.4"/>
<line x1="1395.6" y1="208" x2="1390.2" y2="610" stroke="#000" stroke-width="1"/>
<rect x="1394.45" y="271.6" width="7.05" height="16.9" fill="none" stroke="#000" stroke-width="1.1"/>
<rect x="1393.57" y="336.8" width="7.93" height="14.5" fill="none" stroke="#000" stroke-width="1.1"/>
<rect x="1393.33" y="355" width="8.17" height="15.6" fill="none" stroke="#000" stroke-width="1.1"/>
<rect x="1393.07" y="374" width="8.43" height="16" fill="none" stroke="#000" stroke-width="1.1"/>
<rect x="1392.08" y="448" width="9.42" height="52" fill="none" stroke="#000" stroke-width="1.1"/>
<rect x="1391.38" y="500" width="10.12" height="16" fill="none" stroke="#000" stroke-width="1.1"/>
<rect x="1391.14" y="517.5" width="10.36" height="18.5" fill="none" stroke="#000" stroke-width="1.1"/>
<rect x="1390.84" y="540" width="10.66" height="16" fill="none" stroke="#000" stroke-width="1.1"/>
<rect x="1390.61" y="557.5" width="10.89" height="52.5" fill="none" stroke="#000" stroke-width="1.1"/>
<g stroke="#d0d0d0" stroke-width="0.8">
<line x1="1390.5" y1="622" x2="1400.5" y2="612" stroke="#d0d0d0" stroke-width="0.8"/>
<line x1="1390.5" y1="627" x2="1400.5" y2="617" stroke="#d0d0d0" stroke-width="0.8"/>
<line x1="1390.5" y1="632" x2="1400.5" y2="622" stroke="#d0d0d0" stroke-width="0.8"/>
<line x1="1390.5" y1="637" x2="1400.5" y2="627" stroke="#d0d0d0" stroke-width="0.8"/>
<line x1="1390.5" y1="642" x2="1400.5" y2="632" stroke="#d0d0d0" stroke-width="0.8"/>
<line x1="1390.5" y1="647" x2="1400.5" y2="637" stroke="#d0d0d0" stroke-width="0.8"/>
<line x1="1390.5" y1="652" x2="1400.5" y2="642" stroke="#d0d0d0" stroke-width="0.8"/>
<line x1="1390.5" y1="657" x2="1400.5" y2="647" stroke="#d0d0d0" stroke-width="0.8"/>
<line x1="1390.5" y1="662" x2="1400.5" y2="652" stroke="#d0d0d0" stroke-width="0.8"/>
<line x1="1390.5" y1="667" x2="1400.5" y2="657" stroke="#d0d0d0" stroke-width="0.8"/>
<line x1="1390.5" y1="672" x2="1400.5" y2="662" stroke="#d0d0d0" stroke-width="0.8"/>
<line x1="1390.5" y1="677" x2="1400.5" y2="667" stroke="#d0d0d0" stroke-width="0.8"/>
<line x1="1390.5" y1="682" x2="1400.5" y2="672" stroke="#d0d0d0" stroke-width="0.8"/>
<line x1="1390.5" y1="687" x2="1400.5" y2="677" stroke="#d0d0d0" stroke-width="0.8"/>
<line x1="1390.5" y1="692" x2="1400.5" y2="682" stroke="#d0d0d0" stroke-width="0.8"/>
<line x1="1390.5" y1="697" x2="1400.5" y2="687" stroke="#d0d0d0" stroke-width="0.8"/>
<line x1="1390.5" y1="702" x2="1400.5" y2="692" stroke="#d0d0d0" stroke-width="0.8"/>
<line x1="1390.5" y1="707" x2="1400.5" y2="697" stroke="#d0d0d0" stroke-width="0.8"/>
<line x1="1390.5" y1="712" x2="1400.5" y2="702" stroke="#d0d0d0" stroke-width="0.8"/>
<line x1="1390.5" y1="717" x2="1400.5" y2="707" stroke="#d0d0d0" stroke-width="0.8"/>
<line x1="1390.5" y1="722" x2="1400.5" y2="712" stroke="#d0d0d0" stroke-width="0.8"/>
<line x1="1390.5" y1="727" x2="1400.5" y2="717" stroke="#d0d0d0" stroke-width="0.8"/>
<line x1="1390.5" y1="732" x2="1400.5" y2="722" stroke="#d0d0d0" stroke-width="0.8"/>
<line x1="1390.5" y1="737" x2="1400.5" y2="727" stroke="#d0d0d0" stroke-width="0.8"/>
<line x1="1390.5" y1="742" x2="1400.5" y2="732" stroke="#d0d0d0" stroke-width="0.8"/>
<line x1="1390.5" y1="747" x2="1400.5" y2="737" stroke="#d0d0d0" stroke-width="0.8"/>
<line x1="1390.5" y1="752" x2="1400.5" y2="742" stroke="#d0d0d0" stroke-width="0.8"/>
<line x1="1390.5" y1="757" x2="1400.5" y2="747" stroke="#d0d0d0" stroke-width="0.8"/>
<line x1="1390.5" y1="762" x2="1400.5" y2="752" stroke="#d0d0d0" stroke-width="0.8"/>
<line x1="1390.5" y1="767" x2="1400.5" y2="757" stroke="#d0d0d0" stroke-width="0.8"/>
<line x1="1390.5" y1="772" x2="1400.5" y2="762" stroke="#d0d0d0" stroke-width="0.8"/>
<line x1="1390.5" y1="777" x2="1400.5" y2="767" stroke="#d0d0d0" stroke-width="0.8"/>
<line x1="1390.5" y1="782" x2="1400.5" y2="772" stroke="#d0d0d0" stroke-width="0.8"/>
</g>
<line x1="1389.8" y1="647.5" x2="1401.5" y2="647.5" stroke="#000" stroke-width="1.6"/>
<line x1="1389.8" y1="702.5" x2="1401.5" y2="702.5" stroke="#000" stroke-width="1.6"/>
<line x1="1389.8" y1="759" x2="1401.5" y2="759" stroke="#000" stroke-width="1.6"/>
<text x="1417.8" y="808.8" font-family="Liberation Serif" font-size="31.5" font-style="normal" font-weight="normal" text-anchor="middle" fill="#000" transform="translate(1417.8 808.8) scale(0.71 1) translate(-1417.8 -808.8)">B</text>
<line x1="1427.5" y1="798.8" x2="1451.6" y2="798.8" stroke="#000" stroke-width="2.6"/>
<text x="1462.2" y="809" font-family="Liberation Serif" font-size="31.5" font-style="normal" font-weight="bold" text-anchor="middle" fill="#000" transform="translate(1462.2 809) scale(0.7 1) translate(-1462.2 -809)">B</text>
<line x1="1550" y1="945" x2="1550" y2="968" stroke="#aaa" stroke-width="1"/>
</g>
</svg>
</body></html>
